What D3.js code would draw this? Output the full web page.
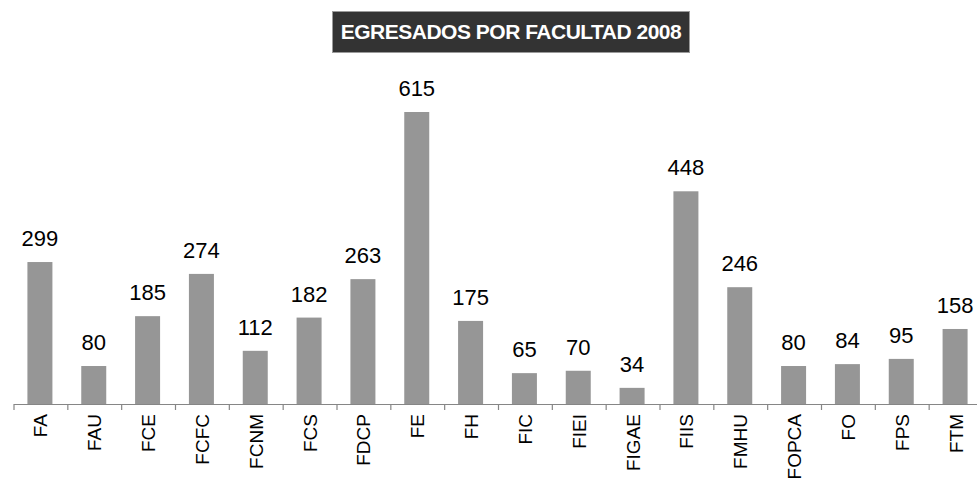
<!DOCTYPE html>
<html><head><meta charset="utf-8">
<script src="https://cdn.jsdelivr.net/npm/d3@7/dist/d3.min.js"></script>
<style>html,body{margin:0;padding:0;background:#fff;overflow:hidden}</style>
</head><body>
<svg id="c" width="977" height="479"></svg>
<script>
const categories = ["FA","FAU","FCE","FCFC","FCNM","FCS","FDCP","FE","FH","FIC","FIEI","FIGAE","FIIS","FMHU","FOPCA","FO","FPS","FTM"];
const values = [299,80,185,274,112,182,263,615,175,65,70,34,448,246,80,84,95,158];
const title = "EGRESADOS POR FACULTAD 2008";

const svg = d3.select("#c");
const font = "'Liberation Sans', Arial, sans-serif";
const xb = d3.scaleBand().domain(categories).range([14, 983]);
const y = d3.scaleLinear().domain([0, 615]).range([404, 112]);

// bars
svg.append("g").selectAll("rect").data(values).join("rect")
  .attr("x", (d,i) => xb(categories[i]) + xb.bandwidth()/2 - 13.5)
  .attr("width", 25)
  .attr("y", d => y(d))
  .attr("height", d => y(0) - y(d))
  .attr("fill", "#969696");

// value labels
svg.append("g").selectAll("text").data(values).join("text")
  .attr("x", (d,i) => xb(categories[i]) + xb.bandwidth()/2 - 1)
  .attr("y", d => y(d) - 16)
  .attr("text-anchor", "middle")
  .attr("font-family", font).attr("font-size", 22).attr("fill", "#000")
  .text(d => d);

// axis
const ax = svg.append("g").attr("stroke", "#868686").attr("stroke-width", 1.2);
ax.append("line").attr("x1", 14).attr("x2", 983).attr("y1", 404.5).attr("y2", 404.5);
const edges = categories.map(c => xb(c)).concat([xb.range()[1]]);
ax.selectAll("line.t").data(edges).join("line").attr("class","t")
  .attr("x1", d => d).attr("x2", d => d).attr("y1", 404).attr("y2", 410);

// category labels
svg.append("g").selectAll("text").data(categories).join("text")
  .attr("transform", d => `translate(${xb(d) + xb.bandwidth()/2 + 6.5},414) rotate(-90)`)
  .attr("text-anchor", "end")
  .attr("font-family", font).attr("font-size", 19).attr("fill", "#000")
  .text(d => d);

// title
svg.append("rect").attr("x", 332.5).attr("y", 11.5).attr("width", 357).attr("height", 41)
  .attr("fill", "#333333").attr("stroke", "#9a9a9a").attr("stroke-width", 1);
svg.append("text").attr("x", 511).attr("y", 38.5).attr("text-anchor", "middle")
  .attr("font-family", font).attr("font-weight", "bold").attr("font-size", 21)
  .attr("letter-spacing", -0.5).attr("fill", "#fff").text(title);
</script>
</body></html>
